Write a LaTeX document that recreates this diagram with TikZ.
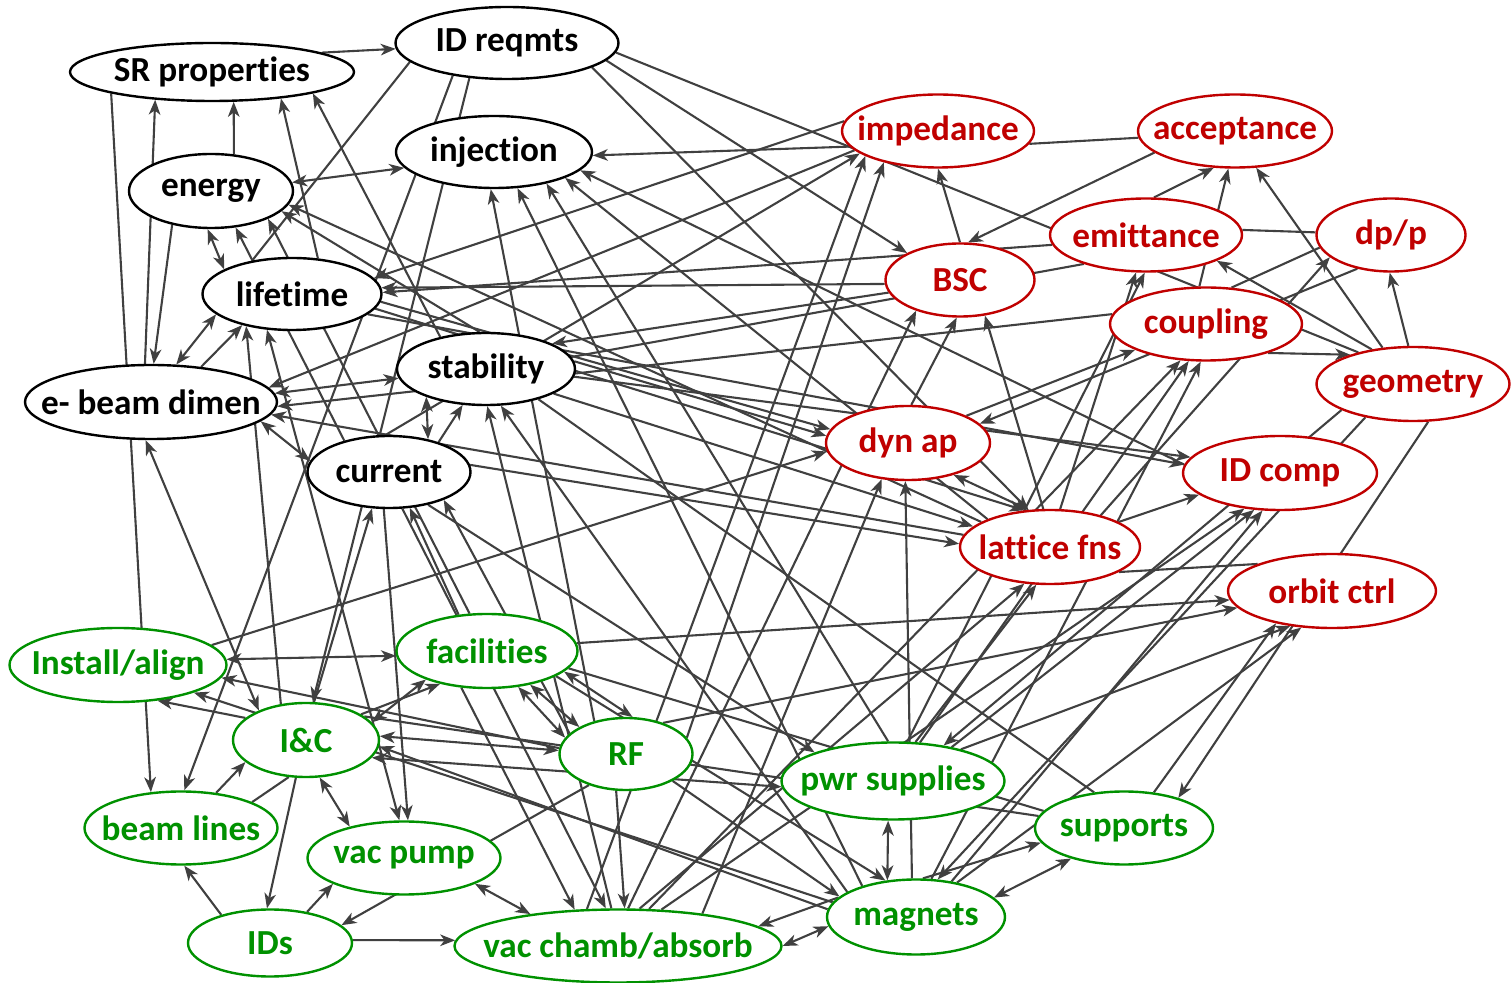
\documentclass[tikz,border=0pt]{standalone}
\usepackage{fontspec}
\setmainfont{Carlito}[Ligatures=NoCommon]
\usetikzlibrary{arrows.meta,shapes.geometric,backgrounds}
\definecolor{edgegray}{RGB}{64,64,64}
\definecolor{topred}{RGB}{192,0,0}
\definecolor{hwgreen}{RGB}{0,145,0}
\newcommand{\elabel}[1]{\makebox[0pt]{#1}}

\begin{document}
\begin{tikzpicture}[x=0.5pt,y=-0.5pt,
    oval/.style={ellipse,fill=white,line width=1.2pt,inner sep=0pt,
                 font=\fontsize{17.6}{20}\selectfont\bfseries},
    param/.style={oval,draw=black,text=black},
    optic/.style={oval,draw=topred,text=topred},
    hw/.style={oval,draw=hwgreen,text=hwgreen},
    link/.style={draw=edgegray,line width=1.05pt},
    >={Stealth[length=7.5pt,width=5.8pt,inset=2.2pt]}]
  \useasboundingbox (0,0) rectangle (1512,983);
  % beam parameters
  \node[param,minimum width=142pt,minimum height=29pt] (srp) at (212,72) {\elabel{SR properties}};
  \node[param,minimum width=111.5pt,minimum height=36pt] (idr) at (507,43) {\elabel{ID reqmts}};
  \node[param,minimum width=98pt,minimum height=36pt] (inj) at (494,152) {\elabel{injection}};
  \node[param,minimum width=82pt,minimum height=37pt] (nrg) at (211,191) {\elabel{energy}};
  \node[param,minimum width=89.5pt,minimum height=36pt] (life) at (292,294) {\elabel{lifetime}};
  \node[param,minimum width=89pt,minimum height=36pt] (stab) at (486,369) {\elabel{stability}};
  \node[param,minimum width=126pt,minimum height=37pt] (ebd) at (151,402) {\elabel{e- beam dimen}};
  \node[param,minimum width=81.5pt,minimum height=36pt] (cur) at (389,472) {\elabel{current}};
  % lattice
  \node[optic,minimum width=96pt,minimum height=36.5pt] (imp) at (938,131) {\elabel{impedance}};
  \node[optic,minimum width=97pt,minimum height=36.5pt] (acc) at (1235,131) {\elabel{acceptance}};
  \node[optic,minimum width=96pt,minimum height=36.5pt] (emit) at (1146,235) {\elabel{emittance}};
  \node[optic,minimum width=74.5pt,minimum height=36.5pt] (dpp) at (1391,235) {\elabel{dp/p}};
  \node[optic,minimum width=74.5pt,minimum height=36.5pt] (bsc) at (960,280) {\elabel{BSC}};
  \node[optic,minimum width=96pt,minimum height=36.5pt] (coup) at (1206,324) {\elabel{coupling}};
  \node[optic,minimum width=96.5pt,minimum height=37pt] (geom) at (1413,384) {\elabel{geometry}};
  \node[optic,minimum width=82pt,minimum height=37pt] (dyn) at (908,443) {\elabel{dyn ap}};
  \node[optic,minimum width=97pt,minimum height=37pt] (idc) at (1280,473) {\elabel{ID comp}};
  \node[optic,minimum width=90pt,minimum height=37pt] (lat) at (1050,547) {\elabel{lattice fns}};
  \node[optic,minimum width=104pt,minimum height=37pt] (orb) at (1332,591) {\elabel{orbit ctrl}};
  % hardware
  \node[hw,minimum width=108.5pt,minimum height=37pt] (inst) at (118,665) {\elabel{Install/align}};
  \node[hw,minimum width=90.5pt,minimum height=37pt] (fac) at (487,651) {\elabel{facilities}};
  \node[hw,minimum width=73pt,minimum height=37pt] (ic) at (306,740) {\elabel{I\&C}};
  \node[hw,minimum width=66.5pt,minimum height=36pt] (rf) at (626,754) {\elabel{RF}};
  \node[hw,minimum width=111.5pt,minimum height=38.5pt] (pwr) at (893,781) {\elabel{pwr supplies}};
  \node[hw,minimum width=96.5pt,minimum height=36.5pt] (bml) at (181,828) {\elabel{beam lines}};
  \node[hw,minimum width=96.5pt,minimum height=36.5pt] (vpump) at (404,858) {\elabel{vac pump}};
  \node[hw,minimum width=89pt,minimum height=36.5pt] (sup) at (1124,828) {\elabel{supports}};
  \node[hw,minimum width=82pt,minimum height=33.5pt] (ids) at (270,943) {\elabel{IDs}};
  \node[hw,minimum width=163.5pt,minimum height=36.5pt] (vca) at (618,946) {\elabel{vac chamb/absorb}};
  \node[hw,minimum width=89pt,minimum height=37.5pt] (mag) at (916,917) {\elabel{magnets}};

  \begin{scope}[on background layer]
    % one way
    \foreach \a/\b in {srp.10/idr.183, srp.192/bml.130, ebd.99/srp.206, nrg.58/srp.306,
        life.54/srp.339, stab.145/srp.348, nrg.221/ebd.86, idr.211/bml.85, idr.223/ic.80,
        idr.350/bsc.153, idr.344/lat.120, imp.190/inj.358, idc.175/inj.348, lat.156/inj.340,
        pwr.97/inj.329, mag.150/inj.303, rf.134/inj.265, cur.145/nrg.304, fac.115/nrg.334,
        stab.100/nrg.344, lat.160/nrg.350, bsc.183/life.4, emit.186/life.1, imp.174/life.11,
        imp.193/ebd.7, cur.262/vpump.84, ic.125/life.215, ebd.35/life.212, coup.174/ebd.358,
        lat.172/ebd.354, cur.31/stab.237, vca.100/stab.272, mag.160/stab.292, bsc.190/stab.21,
        fac.128/cur.300, rf.160/cur.333, ic.78/cur.245, rf.175/inst.353, ic.160/inst.318,
        mag.170/inst.340, inst.12/dyn.186, bml.45/ic.200, ic.255/ids.95, ids.150/bml.275,
        ids.40/vpump.200, rf.220/ids.14, ids.2/vca.178, ic.25/fac.215, mag.175/ic.355,
        fac.235/vca.140, cur.290/vca.108, rf.255/vca.80, cur.320/pwr.160, mag.80/sup.190,
        mag.166/vca.8, mag.96/dyn.266, vca.21/dyn.234, vca.130/imp.199, rf.15/imp.210,
        cur.95/imp.196, vca.75/bsc.215, dyn.85/bsc.265, lat.100/bsc.305, bsc.90/imp.270,
        acc.195/bsc.78, emit.78/acc.240, coup.100/acc.260, coup.335/geom.155, geom.97/dpp.268,
        geom.130/acc.300, geom.140/emit.340, geom.292/sup.29, sup.50/orb.210, geom.200/pwr.35,
        geom.215/mag.60, dpp.225/dyn.15, lat.32/dpp.200, dyn.25/coup.200, pwr.55/coup.245,
        mag.68/coup.262, lat.75/emit.255, pwr.70/emit.268, lat.20/idc.195, pwr.30/idc.235,
        mag.45/idc.245, stab.355/idc.170, life.345/idc.175, rf.40/orb.190, fac.5/orb.185,
        pwr.25/orb.220, mag.40/orb.230, stab.340/lat.165, life.350/lat.125, life.355/dyn.170,
        stab.5/dyn.175, cur.5/lat.178, pwr.60/lat.250, vca.60/lat.235, vca.50/coup.235,
        vca.40/idc.225, rf.330/mag.165, fac.340/mag.130}
      \draw[link,->] (\a) -- (\b);
    % both ways
    \foreach \a/\b in {nrg.6/inj.190, nrg.265/life.160, life.235/vpump.97, ebd.262/ic.148,
        ebd.56/life.195, stab.186/ebd.4, cur.172/ebd.350, stab.205/cur.40, inst.3/fac.183,
        ic.290/vpump.150, vpump.340/vca.160, ic.15/fac.205, ic.3/rf.177, pwr.183/ic.345,
        fac.311/rf.165, fac.322/rf.150, fac.345/rf.80, mag.14/sup.210, mag.128/pwr.263,
        vca.0/mag.186, dyn.325/lat.120}
      \draw[link,<->] (\a) -- (\b);
    % no tips
    \foreach \a/\b in {idr.191/life.140, idr.355/geom.150, ic.245/bml.20, fac.348/sup.168,
        sup.172/ic.22, imp.352/acc.184, emit.3/dpp.178, emit.205/stab.8, coup.55/dpp.190,
        lat.340/orb.160, sup.130/stab.330}
      \draw[link] (\a) -- (\b);
  \end{scope}
\end{tikzpicture}
\end{document}
